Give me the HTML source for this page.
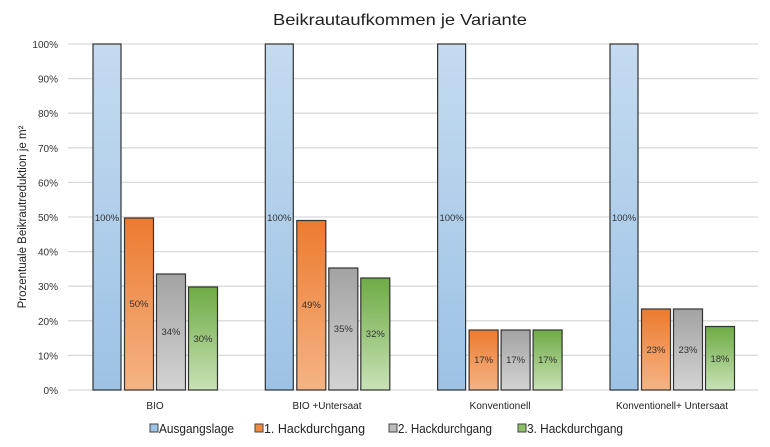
<!DOCTYPE html>
<html><head><meta charset="utf-8"><style>
body{margin:0;background:#fff;}
svg{display:block;font-family:"Liberation Sans",sans-serif;}
</style></head><body>
<svg width="770" height="447" viewBox="0 0 770 447" xmlns="http://www.w3.org/2000/svg">
<defs>
<linearGradient id="gb" x1="0" y1="0" x2="0" y2="1"><stop offset="0" stop-color="#c4dbf0"/><stop offset="1" stop-color="#9cc2e5"/></linearGradient>
<linearGradient id="go" x1="0" y1="0" x2="0" y2="1"><stop offset="0" stop-color="#ec7b30"/><stop offset="1" stop-color="#f5b485"/></linearGradient>
<linearGradient id="gg" x1="0" y1="0" x2="0" y2="1"><stop offset="0" stop-color="#a3a3a3"/><stop offset="1" stop-color="#d3d3d3"/></linearGradient>
<linearGradient id="gn" x1="0" y1="0" x2="0" y2="1"><stop offset="0" stop-color="#6eab45"/><stop offset="1" stop-color="#c8e2b6"/></linearGradient>
</defs>
<text x="400" y="25" font-size="16" text-anchor="middle" fill="#222" textLength="254" lengthAdjust="spacingAndGlyphs">Beikrautaufkommen je Variante</text>
<g stroke="#d9d9d9" stroke-width="1.3">
<line x1="68" x2="758" y1="44" y2="44"/><line x1="68" x2="758" y1="78.6" y2="78.6"/><line x1="68" x2="758" y1="113.2" y2="113.2"/><line x1="68" x2="758" y1="147.8" y2="147.8"/><line x1="68" x2="758" y1="182.4" y2="182.4"/><line x1="68" x2="758" y1="217" y2="217"/><line x1="68" x2="758" y1="251.6" y2="251.6"/><line x1="68" x2="758" y1="286.2" y2="286.2"/><line x1="68" x2="758" y1="320.8" y2="320.8"/><line x1="68" x2="758" y1="355.4" y2="355.4"/><line x1="68" x2="758" y1="390" y2="390"/>
</g>
<g font-size="10" fill="#333" text-anchor="end">
<text x="58" y="48">100%</text><text x="58" y="82.6">90%</text><text x="58" y="117.2">80%</text><text x="58" y="151.8">70%</text><text x="58" y="186.4">60%</text><text x="58" y="221">50%</text><text x="58" y="255.6">40%</text><text x="58" y="290.2">30%</text><text x="58" y="324.8">20%</text><text x="58" y="359.4">10%</text><text x="58" y="394">0%</text>
</g>
<text transform="translate(26,217) rotate(-90)" font-size="11.5" text-anchor="middle" fill="#222">Prozentuale Beikrautreduktion je m²</text>
<g stroke="#333" stroke-width="1.2">
<rect x="93" y="44" width="28" height="346" fill="url(#gb)"/>
<rect x="124.5" y="218" width="29" height="172" fill="url(#go)"/>
<rect x="156.5" y="274" width="29" height="116" fill="url(#gg)"/>
<rect x="188.5" y="287" width="29" height="103" fill="url(#gn)"/>
<rect x="265.3" y="44" width="28" height="346" fill="url(#gb)"/>
<rect x="296.8" y="220.5" width="29" height="169.5" fill="url(#go)"/>
<rect x="328.8" y="268" width="29" height="122" fill="url(#gg)"/>
<rect x="360.8" y="278" width="29" height="112" fill="url(#gn)"/>
<rect x="437.6" y="44" width="28" height="346" fill="url(#gb)"/>
<rect x="469.1" y="330" width="29" height="60" fill="url(#go)"/>
<rect x="501.1" y="330" width="29" height="60" fill="url(#gg)"/>
<rect x="533.1" y="330" width="29" height="60" fill="url(#gn)"/>
<rect x="610" y="44" width="28" height="346" fill="url(#gb)"/>
<rect x="641.5" y="309" width="29" height="81" fill="url(#go)"/>
<rect x="673.5" y="309" width="29" height="81" fill="url(#gg)"/>
<rect x="705.5" y="326.5" width="29" height="63.5" fill="url(#gn)"/>
</g>
<g font-size="9.5" fill="#333" text-anchor="middle">
<text x="107" y="221">100%</text><text x="139" y="307">50%</text><text x="171" y="335">34%</text><text x="203" y="342">30%</text>
<text x="279.3" y="221">100%</text><text x="311.3" y="308">49%</text><text x="343.3" y="332">35%</text><text x="375.3" y="337">32%</text>
<text x="451.6" y="221">100%</text><text x="483.6" y="363">17%</text><text x="515.6" y="363">17%</text><text x="547.6" y="363">17%</text>
<text x="624" y="221">100%</text><text x="656" y="353">23%</text><text x="688" y="353">23%</text><text x="720" y="362">18%</text>
</g>
<g font-size="10" fill="#222" text-anchor="middle">
<text x="155" y="409">BIO</text>
<text x="327" y="409" textLength="69" lengthAdjust="spacingAndGlyphs">BIO +Untersaat</text>
<text x="500" y="409" textLength="61" lengthAdjust="spacingAndGlyphs">Konventionell</text>
<text x="672" y="409" textLength="112" lengthAdjust="spacingAndGlyphs">Konventionell+ Untersaat</text>
</g>
<g font-size="12.5" fill="#222" stroke-width="1">
<rect x="150" y="424" width="8" height="8" fill="#9dc3e6" stroke="#444"/><text x="159" y="433" textLength="75" lengthAdjust="spacingAndGlyphs">Ausgangslage</text>
<rect x="255" y="424" width="8" height="8" fill="#f08a40" stroke="#444"/><text x="264" y="433" textLength="101" lengthAdjust="spacingAndGlyphs">1. Hackdurchgang</text>
<rect x="389" y="424" width="8" height="8" fill="#bdbdbd" stroke="#444"/><text x="398" y="433" textLength="94" lengthAdjust="spacingAndGlyphs">2. Hackdurchgang</text>
<rect x="518" y="424" width="8" height="8" fill="#8cc265" stroke="#444"/><text x="527" y="433" textLength="96" lengthAdjust="spacingAndGlyphs">3. Hackdurchgang</text>
</g>
</svg>
</body></html>
